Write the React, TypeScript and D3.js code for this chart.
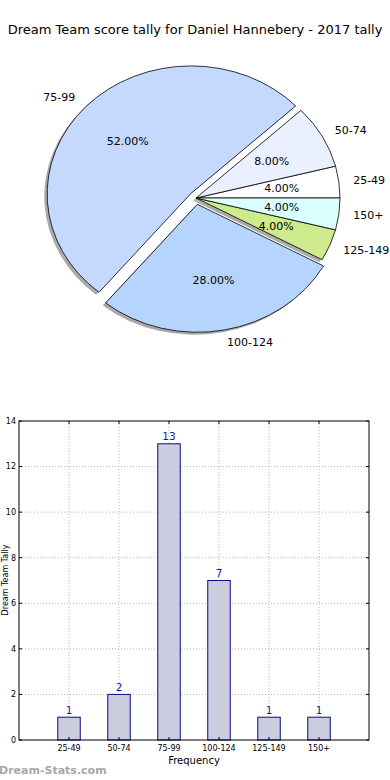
import React from 'react';
import * as d3 from 'd3';

// score bands, in the order matplotlib draws them (ccw from 3 o'clock)
const bands = ['25-49', '50-74', '75-99', '100-124', '125-149', '150+'];
const counts = [1, 2, 13, 7, 1, 1];
const sliceColors = ['#ffffff', '#eaf0ff', '#c5d9ff', '#b5d5ff', '#cdea8c', '#dcffff'];
const explode = [0, 0, 0.05, 0.05, 0, 0];
const yTicks = [0, 2, 4, 6, 8, 10, 12, 14];

const title = 'Dream Team score tally for Daniel Hannebery - 2017 tally';
const font = 'DejaVu Sans, sans-serif';

export default function App() {
  const W = 390, H = 780;

  // pie geometry (the pie is squashed, so separate x/y radii)
  const cx = 196, cy = 198, rx = 144, ry = 128;
  const total = d3.sum(counts);
  const pie = d3.pie<number>().sort(null).startAngle(Math.PI / 2).endAngle(Math.PI / 2 - 2 * Math.PI);
  const slices = pie(counts);
  const arc = d3.arc<any>().innerRadius(0).outerRadius(1);

  // d3 angle -> matplotlib angle
  const mid = (s: any) => Math.PI / 2 - (s.startAngle + s.endAngle) / 2;

  const pieParts = slices.map((s, i) => {
    const th = mid(s);
    const ox = cx + explode[i] * Math.cos(th) * rx;
    const oy = cy - explode[i] * Math.sin(th) * ry;
    return {
      s, i, th, ox, oy,
      lx: ox + 1.1 * Math.cos(th) * rx,
      ly: oy - 1.1 * Math.sin(th) * ry,
      px: ox + 0.6 * Math.cos(th) * rx,
      py: oy - 0.6 * Math.sin(th) * ry,
    };
  });

  // bar chart
  const x = d3.scaleLinear().domain([-1, 6]).range([19, 369]);
  const y = d3.scaleLinear().domain([0, 14]).range([740, 421]);
  const bw = x(0.45) - x(0);
  const [x0, x1] = x.range();
  const [y0, y1] = y.range();

  return (
    <svg width={W} height={H} style={{ position: 'absolute', left: 0, top: 0, background: '#fff' }} fontFamily={font}>
      <text x={195} y={34} textAnchor="middle" fontSize={13} fill="#000">{title}</text>

      {/* shadows */}
      {pieParts.map(p => (
        <path key={'sh' + p.i} d={arc(p.s) as string}
          transform={`translate(${p.ox - 0.02 * rx},${p.oy + 0.02 * ry}) scale(${rx},${ry})`}
          fill="#555" fillOpacity={0.5} />
      ))}
      {pieParts.map(p => (
        <path key={'w' + p.i} d={arc(p.s) as string}
          transform={`translate(${p.ox},${p.oy}) scale(${rx},${ry})`}
          fill={sliceColors[p.i]} stroke="#000" strokeWidth={0.8} vectorEffect="non-scaling-stroke" />
      ))}
      {pieParts.map(p => (
        <text key={'l' + p.i} x={p.lx} y={p.ly} dy="0.35em" fontSize={11}
          textAnchor={Math.cos(p.th) > 0 ? 'start' : 'end'}>{bands[p.i]}</text>
      ))}
      {pieParts.map(p => (
        <text key={'p' + p.i} x={p.px} y={p.py} dy="0.35em" fontSize={11} textAnchor="middle">
          {(counts[p.i] / total * 100).toFixed(2)}%
        </text>
      ))}

      {/* grid */}
      {yTicks.slice(1, -1).map(t => (
        <line key={'gy' + t} x1={x0} x2={x1} y1={y(t)} y2={y(t)} stroke="#b4b4b4" strokeDasharray="1,2" />
      ))}
      {bands.map((b, i) => (
        <line key={'gx' + b} x1={x(i)} x2={x(i)} y1={y0} y2={y1} stroke="#b4b4b4" strokeDasharray="1,2" />
      ))}

      {/* bars */}
      {counts.map((c, i) => (
        <g key={'b' + i}>
          <rect x={x(i) - bw / 2} y={y(c)} width={bw} height={y(0) - y(c)}
            fill="#ccccdf" stroke="#0a0a8a" strokeWidth={1} />
          <text x={x(i)} y={y(c) - 3.5} textAnchor="middle" fontSize={10.5} fill="#1a1a9a">{c}</text>
        </g>
      ))}

      {/* frame + ticks */}
      <rect x={x0} y={y1} width={x1 - x0} height={y0 - y1} fill="none" stroke="#000" strokeWidth={1} />
      {yTicks.map(t => (
        <g key={'yt' + t}>
          <line x1={x0} x2={x0 + 3} y1={y(t)} y2={y(t)} stroke="#000" />
          <line x1={x1 - 3} x2={x1} y1={y(t)} y2={y(t)} stroke="#000" />
          <text x={x0 - 3} y={y(t)} dy="0.35em" textAnchor="end" fontSize={8} fill="#000">{t}</text>
        </g>
      ))}
      {bands.map((b, i) => (
        <g key={'xt' + b}>
          <line x1={x(i)} x2={x(i)} y1={y0} y2={y0 - 3} stroke="#000" />
          <line x1={x(i)} x2={x(i)} y1={y1} y2={y1 + 3} stroke="#000" />
          <text x={x(i)} y={y0 + 11} textAnchor="middle" fontSize={8} fill="#000">{b}</text>
        </g>
      ))}
      <text x={194} y={764} textAnchor="middle" fontSize={10} fill="#000">Frequency</text>
      <text transform="translate(8,580) rotate(-90)" textAnchor="middle" fontSize={8} fill="#000">Dream Team Tally</text>

      <text x={-1} y={774} fontSize={11} fontWeight="bold" fill="#a8a8a8">Dream-Stats.com</text>
    </svg>
  );
}
